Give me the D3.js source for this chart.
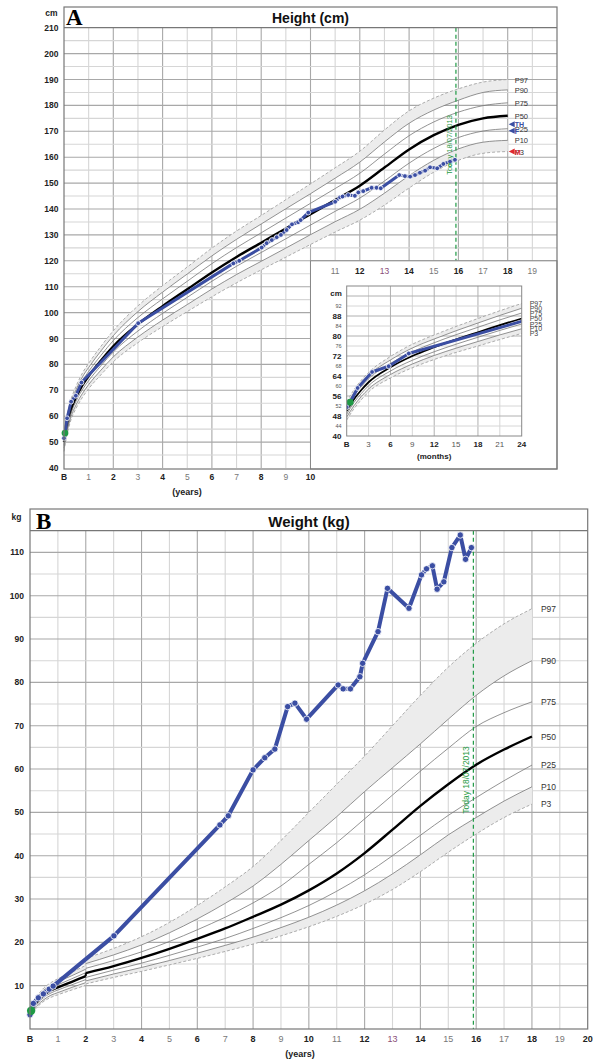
<!DOCTYPE html>
<html>
<head>
<meta charset="utf-8">
<script src="https://cdn.jsdelivr.net/npm/d3@7"></script>
<style>
  body { margin: 0; background: #fff; }
  text { font-family: "Liberation Sans", Arial, sans-serif; }
  text.panel { font-family: "Liberation Serif", "DejaVu Serif", serif; }
</style>
</head>
<body>
<div id="chart"></div>
<script>
var w = 593;
var h = 1061;

var pctNames = ["P97", "P90", "P75", "P50", "P25", "P10", "P3"];

// height reference curves (age in years, cm)
var htRefAges = [0, 0.083, 0.167, 0.25, 0.5, 0.75, 1, 1.5, 2, 3, 4, 5, 6, 7, 8, 9, 10, 11, 12, 13, 14, 15, 16, 17, 18];
var htP97 = [53.6, 58.5, 62.3, 65.4, 71.8, 76.7, 80.4, 87.0, 93.0, 102.6, 110.4, 117.6, 124.9, 131.5, 137.5, 143.6, 149.7, 155.9, 162.3, 170.5, 177.9, 182.8, 186.4, 189.0, 190.0];
var htP90 = [52.4, 57.3, 61.0, 64.2, 70.4, 75.2, 78.8, 85.2, 91.1, 100.4, 107.9, 114.9, 121.9, 128.3, 134.2, 140.1, 145.9, 151.9, 158.1, 165.9, 173.1, 178.2, 182.0, 185.0, 186.0];
var htP75 = [51.3, 56.0, 59.8, 62.9, 69.0, 73.7, 77.3, 83.5, 89.2, 98.1, 105.3, 112.1, 118.9, 125.1, 130.8, 136.5, 142.2, 147.9, 153.8, 161.2, 168.3, 173.6, 177.4, 179.9, 181.0];
var htP50 = [50.0, 54.7, 58.4, 61.5, 67.5, 72.0, 75.5, 81.5, 87.0, 95.5, 102.5, 109.0, 115.5, 121.5, 127.0, 132.5, 138.0, 143.5, 149.0, 156.0, 163.0, 168.5, 172.5, 175.0, 176.0];
var htP25 = [48.7, 53.4, 57.0, 60.1, 66.0, 70.3, 73.7, 79.5, 84.8, 92.9, 99.7, 105.9, 112.1, 117.9, 123.2, 128.5, 133.8, 139.1, 144.2, 150.8, 157.7, 163.4, 167.6, 170.1, 171.0];
var htP10 = [47.6, 52.1, 55.8, 58.8, 64.6, 68.8, 72.2, 77.8, 82.9, 90.6, 97.1, 103.1, 109.1, 114.7, 119.8, 124.9, 130.1, 135.1, 139.9, 146.1, 152.9, 158.8, 163.2, 165.8, 166.5];
var htP3  = [46.4, 50.9, 54.5, 57.6, 63.2, 67.3, 70.6, 76.0, 81.0, 88.4, 94.6, 100.4, 106.1, 111.5, 116.5, 121.4, 126.3, 131.1, 135.7, 141.5, 148.1, 154.2, 158.8, 161.5, 162.2];

// child's height
var htAges = [0, 0.04, 0.125, 0.29, 0.48, 0.71, 3.01, 6.87, 7.11, 8.02, 8.22, 8.43, 8.63, 8.8, 9.03, 9.25, 9.5, 9.6, 9.91, 11.0, 11.2, 11.3, 11.53, 11.8, 11.94, 12.14, 12.48, 12.68, 12.85, 13.6, 13.83, 14.04, 14.24, 14.44, 14.65, 14.85, 15.14, 15.39, 15.66, 15.86];
var htValues = [51.5, 53.5, 59.2, 65.6, 67.9, 73.0, 95.9, 119.0, 120.0, 125.1, 126.8, 128.0, 129.1, 130.0, 131.9, 134.1, 134.9, 135.7, 138.6, 142.8, 144.5, 144.8, 145.4, 145.1, 146.4, 146.9, 148.2, 148.2, 148.0, 153.1, 152.7, 152.5, 153.1, 154.0, 154.8, 156.1, 155.7, 157.4, 158.3, 159.0];

// parents' heights / target height
var parentLabels = ["TH", "F", "M"];
var parentHeights = [172.7, 170.2, 162.2];
var parentColors = ["#3b4ea3", "#3b4ea3", "#e0282e"];

// weight reference curves, birth to 2 years
var wtInfAges = [0, 0.083, 0.167, 0.25, 0.5, 0.75, 1, 1.5, 2];
var wtInfP97 = [4.3, 5.7, 6.9, 7.6, 9.5, 10.7, 11.6, 13.1, 14.7];
var wtInfP90 = [4.0, 5.3, 6.5, 7.2, 9.0, 10.1, 10.9, 12.3, 13.8];
var wtInfP75 = [3.7, 4.9, 6.0, 6.7, 8.4, 9.5, 10.2, 11.6, 13.0];
var wtInfP50 = [3.4, 4.5, 5.6, 6.3, 7.9, 8.9, 9.6, 10.9, 12.2];
var wtInfP25 = [3.1, 4.1, 5.2, 5.8, 7.3, 8.3, 9.0, 10.2, 11.4];
var wtInfP10 = [2.8, 3.8, 4.8, 5.4, 6.8, 7.8, 8.4, 9.6, 10.7];
var wtInfP3  = [2.5, 3.4, 4.4, 5.0, 6.4, 7.3, 7.9, 9.0, 10.1];

// weight reference curves, 2 to 18 years
var wtChildAges = [2, 3, 4, 5, 6, 7, 8, 9, 10, 11, 12, 13, 14, 15, 16, 17, 18];
var wtP97 = [16.3, 18.6, 21.3, 24.6, 28.5, 32.8, 37.5, 43.5, 50.0, 56.5, 63.0, 70.0, 77.0, 83.5, 89.0, 93.5, 97.0];
var wtP90 = [15.1, 17.1, 19.4, 22.2, 25.4, 29.0, 33.0, 38.0, 43.5, 49.0, 54.8, 60.3, 65.8, 71.5, 77.0, 81.5, 85.0];
var wtP75 = [14.0, 15.8, 17.8, 20.2, 22.9, 25.8, 29.1, 33.0, 38.0, 43.0, 48.5, 54.0, 59.5, 64.8, 69.8, 73.0, 75.5];
var wtP50 = [12.9, 14.5, 16.4, 18.5, 20.8, 23.2, 25.9, 28.7, 32.0, 35.9, 40.6, 46.0, 51.5, 56.5, 61.0, 64.5, 67.5];
var wtP25 = [11.9, 13.6, 15.2, 17.0, 18.9, 20.9, 23.2, 25.7, 28.5, 31.8, 35.6, 40.0, 44.7, 49.3, 53.4, 57.3, 60.9];
var wtP10 = [11.1, 12.7, 14.2, 15.8, 17.5, 19.3, 21.2, 23.4, 25.8, 28.6, 31.9, 35.8, 40.2, 44.8, 48.8, 52.6, 55.9];
var wtP3  = [10.4, 11.9, 13.3, 14.8, 16.3, 17.9, 19.6, 21.5, 23.6, 26.0, 28.8, 32.2, 36.3, 40.8, 45.0, 48.8, 51.9];

// child's weight
var wtAges = [0, 0.04, 0.12, 0.3, 0.48, 0.69, 0.83, 3.01, 6.81, 7.11, 8.0, 8.42, 8.78, 9.24, 9.5, 9.92, 11.05, 11.23, 11.49, 11.83, 11.93, 12.48, 12.82, 13.59, 14.04, 14.22, 14.43, 14.6, 14.84, 15.13, 15.43, 15.62, 15.83];
var wtValues = [3.3, 4.2, 5.9, 7.2, 8.1, 9.2, 9.9, 21.5, 47.1, 49.2, 59.8, 62.6, 64.6, 74.4, 75.2, 71.5, 79.4, 78.5, 78.5, 81.3, 84.4, 91.7, 101.7, 97.1, 104.8, 106.2, 106.9, 101.5, 103.2, 111.1, 114.0, 108.4, 111.1];

var todayAge = 15.9;
var todayLabel = "Today 18/07/2013";
var yearLabels = ["B", "1", "2", "3", "4", "5", "6", "7", "8", "9", "10", "11", "12", "13", "14", "15", "16", "17", "18", "19", "20"];

var blue = "#3b4ea3";
var green = "#1f9a45";

var svg = d3.select("#chart").append("svg")
    .attr("width", w)
    .attr("height", h);

// draws the percentile curves with shaded P90-P97 and P3-P10 bands
function refLines(g, x, y, ages, table, thin) {
    var pts = function(vals) { return ages.map(function(a, i) { return [a, vals[i]]; }); };
    var line = d3.line().x(function(d) { return x(d[0]); }).y(function(d) { return y(d[1]); }).curve(d3.curveMonotoneX);
    var band = d3.area().x(function(d) { return x(d[0]); })
        .y0(function(d) { return y(d[1]); }).y1(function(d) { return y(d[2]); })
        .curve(d3.curveMonotoneX);
    [[1, 0], [6, 5]].forEach(function(p) {
        g.append("path")
            .attr("d", band(ages.map(function(a, i) { return [a, table[p[0]][i], table[p[1]][i]]; })))
            .attr("fill", "#ececec");
    });
    table.forEach(function(vals, k) {
        var p = g.append("path").attr("d", line(pts(vals))).attr("fill", "none");
        if (k == 3) {
            p.attr("stroke", "#000").attr("stroke-width", thin ? 1.8 : 2.4);
        } else if (k == 0 || k == 6) {
            p.attr("stroke", "#999").attr("stroke-width", 0.8).attr("stroke-dasharray", "3,2");
        } else {
            p.attr("stroke", "#777").attr("stroke-width", 0.8);
        }
    });
}

function childLine(g, x, y, ages, vals, width, r) {
    var pts = ages.map(function(a, i) { return [a, vals[i]]; });
    var line = d3.line().x(function(d) { return x(d[0]); }).y(function(d) { return y(d[1]); });
    g.append("path").attr("d", line(pts))
        .attr("fill", "none").attr("stroke", blue)
        .attr("stroke-width", width).attr("stroke-linejoin", "round");
    g.selectAll("circle.pt").data(pts).enter().append("circle")
        .attr("class", "pt")
        .attr("cx", function(d) { return x(d[0]); })
        .attr("cy", function(d) { return y(d[1]); })
        .attr("r", r)
        .attr("fill", blue).attr("stroke", "#fff").attr("stroke-width", 0.8);
    // birth measurement in green
    g.append("circle").attr("cx", x(pts[1][0])).attr("cy", y(pts[1][1]))
        .attr("r", r + 1).attr("fill", green);
}

function yearText(g, x, i, yPos, size) {
    g.append("text")
        .attr("x", x(i)).attr("y", yPos)
        .attr("text-anchor", "middle")
        .attr("font-size", size)
        .attr("font-weight", (i % 2 == 0) ? "bold" : "normal")
        .attr("fill", i == 13 ? "#8a4d78" : (i % 2 == 0 ? "#222" : "#777"))
        .text(yearLabels[i]);
}

// ================= A: height =================
var hx = d3.scaleLinear().domain([0, 20]).range([64, 557]);
var hy = d3.scaleLinear().domain([40, 210]).range([468, 27.7]);
var A = svg.append("g");

d3.range(1, 20).forEach(function(i) {
    A.append("line").attr("x1", hx(i)).attr("x2", hx(i)).attr("y1", hy(210)).attr("y2", hy(40))
        .attr("stroke", i % 2 == 0 ? "#a8a8a8" : "#d6d6d6").attr("stroke-width", 1.1);
});
d3.range(45, 210, 5).forEach(function(v) {
    A.append("line").attr("x1", hx(0)).attr("x2", hx(20)).attr("y1", hy(v)).attr("y2", hy(v))
        .attr("stroke", v % 10 == 0 ? "#a8a8a8" : "#d6d6d6").attr("stroke-width", 1.1);
});

var htTable = [htP97, htP90, htP75, htP50, htP25, htP10, htP3];
refLines(A, hx, hy, htRefAges, htTable, false);

A.append("line").attr("x1", hx(todayAge)).attr("x2", hx(todayAge)).attr("y1", hy(210)).attr("y2", hy(120))
    .attr("stroke", green).attr("stroke-width", 1.2).attr("stroke-dasharray", "4,3");
A.append("text")
    .attr("transform", "translate(" + (hx(todayAge) - 4) + "," + 145 + ") rotate(-90)")
    .attr("text-anchor", "middle").attr("font-size", 7.5).attr("fill", green)
    .text(todayLabel);

childLine(A, hx, hy, htAges, htValues, 3, 2.4);
A.append("text").attr("x", hx(15.66)).attr("y", hy(156.3)).attr("text-anchor", "middle")
    .attr("font-size", 6).attr("fill", green).text("B");

// percentile labels
htTable.forEach(function(vals, k) {
    A.append("text").attr("x", hx(18) + 7).attr("y", hy(vals[vals.length - 1]) + 3)
        .attr("font-size", 7.5).attr("fill", "#333").text(pctNames[k]);
});
// parent markers
parentLabels.forEach(function(lab, k) {
    var yy = hy(parentHeights[k]);
    var x0 = hx(18) + 1;
    A.append("path").attr("d", "M" + x0 + "," + yy + "l6,-3l0,6z").attr("fill", parentColors[k]);
    A.append("text").attr("x", x0 + 6).attr("y", yy + 3)
        .attr("font-size", 7).attr("font-weight", "bold").attr("fill", parentColors[k]).text(lab);
});

// white box holding the inset
A.append("rect").attr("x", hx(10)).attr("y", hy(120)).attr("width", hx(20) - hx(10)).attr("height", hy(40) - hy(120) + 1)
    .attr("fill", "#fff").attr("stroke", "#888").attr("stroke-width", 1);

// frame and header
A.append("rect").attr("x", 64).attr("y", 7).attr("width", 493).attr("height", 462)
    .attr("fill", "none").attr("stroke", "#777").attr("stroke-width", 1.2);
A.append("line").attr("x1", 64).attr("x2", 557).attr("y1", hy(210)).attr("y2", hy(210))
    .attr("stroke", "#777").attr("stroke-width", 1.2);
A.append("text").attr("x", 310.5).attr("y", 22.5).attr("text-anchor", "middle")
    .attr("font-size", 14).attr("font-weight", "bold").attr("fill", "#111").text("Height (cm)");
A.append("text").attr("class", "panel").attr("x", 66).attr("y", 25)
    .attr("font-size", 23).attr("font-weight", "bold").text("A");

// axes labels
A.append("text").attr("x", 51.5).attr("y", 16).attr("text-anchor", "middle")
    .attr("font-size", 8.5).attr("font-weight", "bold").attr("fill", "#222").text("cm");
d3.range(40, 211, 10).forEach(function(v) {
    A.append("text").attr("x", 58.5).attr("y", hy(v) + 3).attr("text-anchor", "end")
        .attr("font-size", 8.5).attr("font-weight", "bold").attr("fill", "#222").text(v);
});
d3.range(0, 11).forEach(function(i) { yearText(A, hx, i, 480, 8.5); });
d3.range(11, 20).forEach(function(i) { yearText(A, hx, i, 273.5, 8.5); });
A.append("text").attr("x", 187).attr("y", 495).attr("text-anchor", "middle")
    .attr("font-size", 9).attr("font-weight", "bold").attr("fill", "#222").text("(years)");

// ---- inset: birth to 24 months ----
var ix = d3.scaleLinear().domain([0, 24]).range([346.7, 521.7]);
var iy = d3.scaleLinear().domain([40, 100]).range([436, 286]);
var ixY = function(a) { return ix(a * 12); };
var I = svg.append("g");
svg.append("clipPath").attr("id", "insetClip").append("rect")
    .attr("x", ix(0)).attr("y", iy(100)).attr("width", ix(24) - ix(0)).attr("height", iy(40) - iy(100));

d3.range(3, 24, 3).forEach(function(m) {
    I.append("line").attr("x1", ix(m)).attr("x2", ix(m)).attr("y1", iy(100)).attr("y2", iy(40))
        .attr("stroke", m % 6 == 0 ? "#b0b0b0" : "#d6d6d6").attr("stroke-width", 1);
});
d3.range(44, 100, 4).forEach(function(v) {
    I.append("line").attr("x1", ix(0)).attr("x2", ix(24)).attr("y1", iy(v)).attr("y2", iy(v))
        .attr("stroke", v % 8 == 0 ? "#b0b0b0" : "#d6d6d6").attr("stroke-width", 1);
});
var Ic = I.append("g").attr("clip-path", "url(#insetClip)");
var infIdx = htRefAges.filter(function(a) { return a <= 2; }).length;
refLines(Ic, ixY, iy, htRefAges.slice(0, infIdx + 1),
    htTable.map(function(v) { return v.slice(0, infIdx + 1); }), true);
childLine(Ic, ixY, iy, htAges, htValues, 3, 2.4);
I.append("rect").attr("x", ix(0)).attr("y", iy(100)).attr("width", ix(24) - ix(0)).attr("height", iy(40) - iy(100))
    .attr("fill", "none").attr("stroke", "#888").attr("stroke-width", 1);

htTable.forEach(function(vals, k) {
    var a = htRefAges.indexOf(2);
    I.append("text").attr("x", ix(24) + 8).attr("y", iy(vals[a]) + 2.5)
        .attr("font-size", 7).attr("fill", "#444").text(pctNames[k]);
});
d3.range(40, 93, 4).forEach(function(v) {
    var big = v % 8 == 0;
    I.append("text").attr("x", 341.5).attr("y", iy(v) + (big ? 3 : 2))
        .attr("text-anchor", "end").attr("font-size", big ? 8 : 5.5)
        .attr("font-weight", big ? "bold" : "normal").attr("fill", big ? "#222" : "#555").text(v);
});
d3.range(0, 25, 3).forEach(function(m) {
    I.append("text").attr("x", ix(m)).attr("y", 446.5).attr("text-anchor", "middle")
        .attr("font-size", 8).attr("font-weight", m % 6 == 0 ? "bold" : "normal")
        .attr("fill", m % 6 == 0 ? "#222" : "#555").text(m == 0 ? "B" : m);
});
I.append("text").attr("x", 336).attr("y", 295.5).attr("text-anchor", "middle")
    .attr("font-size", 8).attr("font-weight", "bold").attr("fill", "#222").text("cm");
I.append("text").attr("x", ix(12)).attr("y", 458.5).attr("text-anchor", "middle")
    .attr("font-size", 8).attr("font-weight", "bold").attr("fill", "#222").text("(months)");

// ================= B: weight =================
var wx = d3.scaleLinear().domain([0, 20]).range([30, 587.7]);
var wy = d3.scaleLinear().domain([0, 115]).range([1029, 530.7]);
var B = svg.append("g");

d3.range(1, 20).forEach(function(i) {
    B.append("line").attr("x1", wx(i)).attr("x2", wx(i)).attr("y1", wy(115)).attr("y2", wy(0))
        .attr("stroke", i % 2 == 0 ? "#a8a8a8" : "#d6d6d6").attr("stroke-width", 1.1);
});
d3.range(5, 115, 5).forEach(function(v) {
    B.append("line").attr("x1", wx(0)).attr("x2", wx(20)).attr("y1", wy(v)).attr("y2", wy(v))
        .attr("stroke", v % 10 == 0 ? "#a8a8a8" : "#d6d6d6").attr("stroke-width", 1.1);
});

var wtInfTable = [wtInfP97, wtInfP90, wtInfP75, wtInfP50, wtInfP25, wtInfP10, wtInfP3];
var wtTable = [wtP97, wtP90, wtP75, wtP50, wtP25, wtP10, wtP3];
refLines(B, wx, wy, wtInfAges, wtInfTable, false);
refLines(B, wx, wy, wtChildAges, wtTable, false);
// step at 2 years between the two references
B.append("line").attr("x1", wx(2)).attr("x2", wx(2))
    .attr("y1", wy(wtInfP50[wtInfP50.length - 1])).attr("y2", wy(wtP50[0]))
    .attr("stroke", "#000").attr("stroke-width", 2);

B.append("line").attr("x1", wx(todayAge)).attr("x2", wx(todayAge)).attr("y1", wy(115)).attr("y2", wy(0))
    .attr("stroke", green).attr("stroke-width", 1.2).attr("stroke-dasharray", "4,3");
B.append("text")
    .attr("transform", "translate(" + (wx(todayAge) - 4) + "," + 780 + ") rotate(-90)")
    .attr("text-anchor", "middle").attr("font-size", 8.5).attr("fill", green)
    .text(todayLabel);

childLine(B, wx, wy, wtAges, wtValues, 4, 3.2);

wtTable.forEach(function(vals, k) {
    B.append("text").attr("x", wx(18) + 9).attr("y", wy(vals[vals.length - 1]) + 3)
        .attr("font-size", 8.5).attr("fill", "#333").text(pctNames[k]);
});

B.append("rect").attr("x", 30).attr("y", 509).attr("width", 557.7).attr("height", 520)
    .attr("fill", "none").attr("stroke", "#777").attr("stroke-width", 1.2);
B.append("line").attr("x1", 30).attr("x2", 587.7).attr("y1", wy(115)).attr("y2", wy(115))
    .attr("stroke", "#777").attr("stroke-width", 1.2);
B.append("text").attr("x", 309).attr("y", 527).attr("text-anchor", "middle")
    .attr("font-size", 15).attr("font-weight", "bold").attr("fill", "#111").text("Weight (kg)");
B.append("text").attr("class", "panel").attr("x", 36).attr("y", 529)
    .attr("font-size", 23).attr("font-weight", "bold").text("B");

B.append("text").attr("x", 16.5).attr("y", 520).attr("text-anchor", "middle")
    .attr("font-size", 8.5).attr("font-weight", "bold").attr("fill", "#222").text("kg");
d3.range(10, 111, 10).forEach(function(v) {
    B.append("text").attr("x", 24).attr("y", wy(v) + 3).attr("text-anchor", "end")
        .attr("font-size", 8.5).attr("font-weight", "bold").attr("fill", "#222").text(v);
});
d3.range(0, 21).forEach(function(i) { yearText(B, wx, i, 1041.5, 9); });
B.append("text").attr("x", 300).attr("y", 1057).attr("text-anchor", "middle")
    .attr("font-size", 9).attr("font-weight", "bold").attr("fill", "#222").text("(years)");
</script>
</body>
</html>
